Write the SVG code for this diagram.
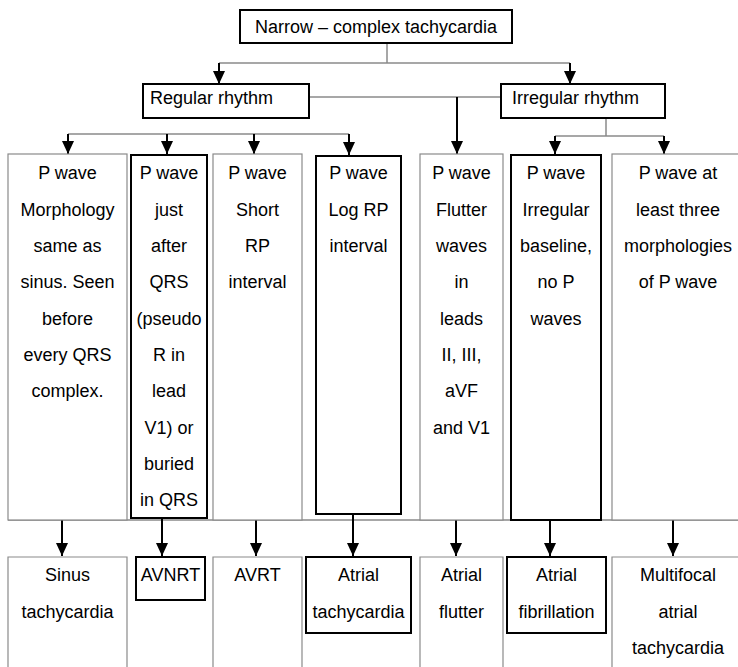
<svg xmlns="http://www.w3.org/2000/svg" width="738" height="667" viewBox="0 0 738 667">
<style>
text{font-family:"Liberation Sans",Arial,sans-serif;font-size:18px;fill:#000;text-anchor:middle}
.l{text-anchor:start}
.thin{fill:#fff;stroke:#8a8a8a;stroke-width:1.2}
.thick{fill:#fff;stroke:#000;stroke-width:2}
.g{fill:none;stroke:#8a8a8a;stroke-width:1.5}
.a{fill:none;stroke:#000;stroke-width:2;marker-end:url(#ad)}
</style>
<defs>
<marker id="ad" markerWidth="12" markerHeight="13" refX="6" refY="13" markerUnits="userSpaceOnUse" viewBox="0 0 12 13">
<path d="M0,0 L12,0 L6,13 Z" fill="#000"/>
</marker>
</defs>

<g id="connectors">
<path class="g" d="M387,43 V63 M219,63 H570"/>
<path class="a" d="M219,63 V84"/>
<path class="a" d="M570,63 V84"/>
<path class="g" d="M309,97 H501"/>
<path class="a" d="M457,97 V154"/>
<path class="g" d="M68,134 H349"/>
<path class="a" d="M68,134 V154"/>
<path class="a" d="M167,134 V154"/>
<path class="a" d="M254,134 V154"/>
<path class="a" d="M349,134 V155"/>
<path class="g" d="M606,119 V136 M555,136 H664"/>
<path class="a" d="M555,136 V154"/>
<path class="a" d="M664,136 V154"/>
<path class="g" d="M8,520 H738"/>
<path class="a" d="M62,520 V556"/>
<path class="a" d="M162,518 V556"/>
<path class="a" d="M256,520 V556"/>
<path class="a" d="M353,514 V556"/>
<path class="a" d="M456,520 V556"/>
<path class="a" d="M550,520 V556"/>
<path class="a" d="M673,520 V556"/>
</g>

<g id="root">
<rect class="thick" x="240" y="10" width="272" height="33"/>
<text x="376" y="33">Narrow – complex tachycardia</text>
</g>
<g id="regular">
<rect class="thick" x="143" y="84" width="166" height="34"/>
<text class="l" x="150" y="104">Regular rhythm</text>
</g>
<g id="irregular">
<rect class="thick" x="501" y="84" width="164" height="34"/>
<text class="l" x="512" y="104">Irregular rhythm</text>
</g>

<g id="col1">
<rect class="thin" x="8" y="154" width="119" height="366"/>
<text x="67.5" y="179">P wave</text>
<text x="67.5" y="216">Morphology</text>
<text x="67.5" y="252">same as</text>
<text x="67.5" y="288">sinus. Seen</text>
<text x="67.5" y="325">before</text>
<text x="67.5" y="361">every QRS</text>
<text x="67.5" y="397">complex.</text>
</g>
<g id="col2">
<rect class="thick" x="131" y="155" width="76" height="363"/>
<text x="169" y="179">P wave</text>
<text x="169" y="216">just</text>
<text x="169" y="252">after</text>
<text x="169" y="288">QRS</text>
<text x="169" y="325">(pseudo</text>
<text x="169" y="361">R in</text>
<text x="169" y="397">lead</text>
<text x="169" y="434">V1) or</text>
<text x="169" y="470">buried</text>
<text x="169" y="506">in QRS</text>
</g>
<g id="col3">
<rect class="thin" x="213" y="154" width="89" height="366"/>
<text x="257.5" y="179">P wave</text>
<text x="257.5" y="216">Short</text>
<text x="257.5" y="252">RP</text>
<text x="257.5" y="288">interval</text>
</g>
<g id="col4">
<rect class="thick" x="316" y="156" width="85" height="358"/>
<text x="358.5" y="179">P wave</text>
<text x="358.5" y="216">Log RP</text>
<text x="358.5" y="252">interval</text>
</g>
<g id="col5">
<rect class="thin" x="420" y="154" width="83" height="366"/>
<text x="461.5" y="179">P wave</text>
<text x="461.5" y="216">Flutter</text>
<text x="461.5" y="252">waves</text>
<text x="461.5" y="288">in</text>
<text x="461.5" y="325">leads</text>
<text x="461.5" y="361">II, III,</text>
<text x="461.5" y="397">aVF</text>
<text x="461.5" y="434">and V1</text>
</g>
<g id="col6">
<rect class="thick" x="511" y="155" width="90" height="365"/>
<text x="556" y="179">P wave</text>
<text x="556" y="216">Irregular</text>
<text x="556" y="252">baseline,</text>
<text x="556" y="288">no P</text>
<text x="556" y="325">waves</text>
</g>
<g id="col7">
<rect class="thin" x="612" y="154" width="140" height="366"/>
<text x="678" y="179">P wave at</text>
<text x="678" y="216">least three</text>
<text x="678" y="252">morphologies</text>
<text x="678" y="288">of P wave</text>
</g>

<g id="out1">
<path class="thin" d="M8,668 V557 H127 V668"/>
<text x="67.5" y="581">Sinus</text>
<text x="67.5" y="618">tachycardia</text>
</g>
<g id="out2">
<rect class="thick" x="136" y="557" width="69" height="43"/>
<text x="170.5" y="581">AVNRT</text>
</g>
<g id="out3">
<path class="thin" d="M213,668 V557 H302 V668"/>
<text x="257.5" y="581">AVRT</text>
</g>
<g id="out4">
<rect class="thick" x="306" y="557" width="105" height="76"/>
<text x="358.5" y="581">Atrial</text>
<text x="358.5" y="618">tachycardia</text>
</g>
<g id="out5">
<path class="thin" d="M420,668 V557 H503 V668"/>
<text x="461.5" y="581">Atrial</text>
<text x="461.5" y="618">flutter</text>
</g>
<g id="out6">
<rect class="thick" x="507" y="557" width="99" height="76"/>
<text x="556.5" y="581">Atrial</text>
<text x="556.5" y="618">fibrillation</text>
</g>
<g id="out7">
<path class="thin" d="M612,668 V557 H752"/>
<text x="678" y="581">Multifocal</text>
<text x="678" y="618">atrial</text>
<text x="678" y="654">tachycardia</text>
</g>
</svg>
